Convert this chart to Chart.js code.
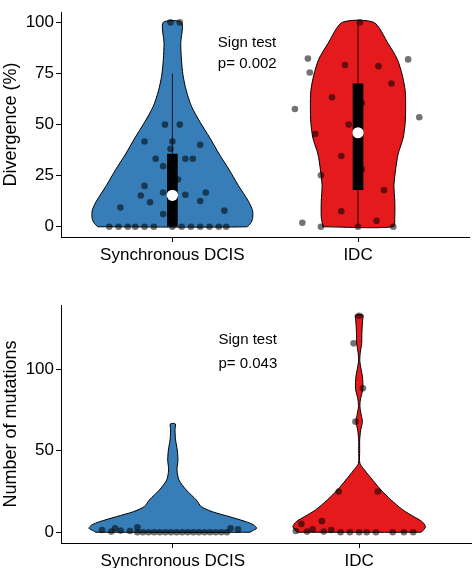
<!DOCTYPE html>
<html>
<head>
<meta charset="utf-8">
<script src="https://cdn.jsdelivr.net/npm/chart.js@4.4.1/dist/chart.umd.min.js"></script>
<style>
  body { margin: 0; background: #fff; }
  .panel { position: absolute; left: 0; }
</style>
</head>
<body>
<div class="panel" style="top:0"><canvas id="divChart" width="475" height="270"></canvas></div>
<div class="panel" style="top:280px"><canvas id="mutChart" width="475" height="288"></canvas></div>
<script>
// categories and ticks
const groups = ['Synchronous DCIS', 'IDC'];
const divTicks = [0, 25, 50, 75, 100];
const mutTicks = [0, 50, 100];
const pValues = ['0.002', '0.043'];

// violin outlines: value levels and relative half widths
const dcisDivY = [0, 1.7, 4, 7.9, 12.5, 20.2, 27.9, 35.6, 43.4, 51, 58.8, 66.5, 74.2, 82, 89.7, 100];
const dcisDivW = [0.89, 0.935, 0.96, 0.96, 0.91, 0.79, 0.68, 0.56, 0.45, 0.335, 0.23, 0.167, 0.127, 0.108, 0.10, 0.11];
const idcDivY = [0, 4.8, 12.5, 20.2, 27.9, 35.6, 43.4, 51, 58.8, 66.5, 74.2, 82, 89.7, 100];
const idcDivW = [0.42, 0.44, 0.44, 0.43, 0.45, 0.48, 0.54, 0.565, 0.57, 0.565, 0.53, 0.47, 0.36, 0.19];
const dcisMutY = [0, 0.8, 2.4, 4.5, 6.5, 9.6, 12.6, 15.7, 19.8, 25.9, 32, 38.2, 44.3, 50.4, 56.6, 62.7, 66.4];
const dcisMutW = [0.92, 0.945, 1.0, 0.965, 0.87, 0.67, 0.47, 0.34, 0.28, 0.16, 0.073, 0.05, 0.061, 0.053, 0.033, 0.026, 0.03];
const idcMutY = [0, 0.4, 3.4, 6.5, 9.6, 13.7, 19.8, 25.9, 32, 38.2, 42.3, 50, 56.6, 62.7, 67.8, 72, 77, 81.1, 88.2, 95.3, 104.5, 109.7, 115.8, 121.9, 130.1, 133.2];
const idcMutW = [0.73, 0.75, 0.79, 0.75, 0.65, 0.52, 0.38, 0.26, 0.16, 0.063, 0.008, 0.006, 0.006, 0.018, 0.039, 0.024, 0.009, 0.014, 0.044, 0.039, 0.008, 0.012, 0.03, 0.032, 0.041, 0.045];

// boxplot stats (divergence only)
const boxQ1 = [0, 18.2];
const boxQ3 = [35.6, 69.9];
const boxMedian = [15.4, 46];
const whiskerLow = [0, 0];
const whiskerHigh = [75, 100];

// jittered samples: divergence
const dcisDivX = [0.66, 0.71, 0.76, 0.80, 0.85, 0.90, 1.00, 1.05, 1.10, 1.15, 1.20, 1.25, 1.29,
  0.72, 0.95, 1.01, 1.28, 0.83, 0.88, 0.85, 0.95, 1.07, 1.15, 1.18, 1.03, 0.95, 0.91, 1.07, 1.11, 0.99, 1.00, 0.85, 1.15, 0.96, 1.04, 0.99, 1.04];
const dcisDivV = [0, 0, 0, 0, 0, 0, 0, 0, 0, 0, 0, 0, 0,
  9.4, 6.2, 9.6, 7.9, 15.3, 12, 20, 16.8, 15.7, 12.6, 16.8, 23.1, 29.6, 33.3, 33.3, 33.3, 38.1, 41.7, 41.7, 40.1, 50, 50, 100, 100];
const idcDivX = [2.01, 1.73, 1.74, 1.93, 2.11, 2.27, 2.18, 1.86, 2.02, 1.66, 2.33, 1.95, 1.77, 1.91, 2.02, 1.80, 2.14, 1.91, 2.10, 1.70, 1.80, 2.00, 2.19];
const idcDivV = [100, 82.3, 75.5, 79.2, 78.6, 81.9, 70.1, 63.4, 60.5, 57.6, 53.6, 50, 45.4, 34.6, 28.2, 25.2, 17.9, 7.6, 2.9, 2, 0, 0, 0];

// jittered samples: mutations
const dcisMutX = [0.62, 0.67, 0.69, 0.72, 0.77, 0.81,
  0.81, 0.84, 0.87, 0.90, 0.93, 0.96, 0.99, 1.02, 1.05, 1.08, 1.11, 1.14, 1.17, 1.20, 1.23, 1.26, 1.29, 1.31, 1.35];
const dcisMutV = [1.4, 0.4, 2.4, 1, 0.8, 3,
  0, 0, 0, 0, 0, 0, 0, 0, 0, 0, 0, 0, 0, 0, 0, 0, 0, 2.4, 1.8];
const idcMutX = [2.00, 1.97, 2.02, 1.98, 1.89, 2.10, 1.69, 1.80, 1.75, 1.72, 1.66, 1.81, 1.85,
  1.90, 1.95, 2.00, 2.04, 2.09, 2.18, 2.24, 2.29];
const idcMutV = [132.7, 115.8, 88.2, 67.8, 24.9, 24.9, 5.1, 6.8, 1.8, 0.4, 0.8, 0.4, 1.4,
  0, 0, 0, 0, 0, 0, 0, 0];

const colors = ['#377EB8', '#E41A1C'];
const FONT = "'Liberation Sans', Arial, Helvetica, sans-serif";
Chart.defaults.font.family = FONT;
Chart.defaults.color = '#000';

// closed outline of a violin around category centre
function violin(center, ys, ws) {
  const pts = [];
  for (let i = 0; i < ys.length; i++) pts.push({ x: center - 0.45 * ws[i], y: ys[i] });
  for (let i = ys.length - 1; i >= 0; i--) pts.push({ x: center + 0.45 * ws[i], y: ys[i] });
  pts.push(pts[0]);
  return pts;
}

function zip(xs, ys) {
  return xs.map((x, i) => ({ x: x, y: ys[i] }));
}

// "Sign test / p= ..." label
const annotate = {
  id: 'annotate',
  afterDraw(chart, args, opts) {
    const { ctx, scales } = chart;
    ctx.save();
    ctx.font = '15px ' + FONT;
    ctx.fillStyle = '#000';
    ctx.textAlign = 'left';
    ctx.textBaseline = 'middle';
    const x = scales.x.getPixelForValue(opts.x);
    ctx.fillText('Sign test', x, scales.y.getPixelForValue(opts.y1));
    ctx.fillText('p= ' + opts.p, x, scales.y.getPixelForValue(opts.y2));
    ctx.restore();
  }
};

function makeChart(id, cfg) {
  const datasets = [
    { type: 'line', data: violin(1, cfg.dcisY, cfg.dcisW), borderColor: '#000', borderWidth: 1,
      backgroundColor: colors[0], fill: 'shape', pointRadius: 0, tension: 0.25, order: 6 },
    { type: 'line', data: violin(2, cfg.idcY, cfg.idcW), borderColor: '#000', borderWidth: 1,
      backgroundColor: colors[1], fill: 'shape', pointRadius: 0, tension: 0.25, order: 6 },
    { type: 'line', data: zip(cfg.dcisX, cfg.dcisV), showLine: false, pointRadius: 3.3,
      pointBackgroundColor: 'rgba(0,0,0,0.55)', pointBorderWidth: 0, order: 2 },
    { type: 'line', data: zip(cfg.idcX, cfg.idcV), showLine: false, pointRadius: 3.3,
      pointBackgroundColor: 'rgba(0,0,0,0.55)', pointBorderWidth: 0, order: 2 }
  ];
  if (cfg.box) {
    datasets.push(
      { type: 'line', data: [{ x: 1, y: whiskerLow[0] }, { x: 1, y: whiskerHigh[0] }, { x: 1.5, y: null },
          { x: 2, y: whiskerLow[1] }, { x: 2, y: whiskerHigh[1] }],
        borderColor: 'rgba(0,0,0,0.8)', borderWidth: 1, pointRadius: 0, spanGaps: false, order: 5 },
      { type: 'bar', data: [{ x: 1, y: [boxQ1[0], boxQ3[0]] }, { x: 2, y: [boxQ1[1], boxQ3[1]] }],
        backgroundColor: '#000', barThickness: 10, grouped: false, order: 4 },
      { type: 'line', data: [{ x: 1, y: boxMedian[0] }, { x: 2, y: boxMedian[1] }], showLine: false,
        pointRadius: 5.6, pointBackgroundColor: '#fff', pointBorderWidth: 0, order: 1 }
    );
  }
  return new Chart(document.getElementById(id), {
    type: 'line',
    data: { datasets },
    options: {
      responsive: false,
      animation: false,
      layout: { padding: { top: cfg.padTop, left: 0, right: 0, bottom: 0 } },
      plugins: { legend: { display: false }, tooltip: { enabled: false }, annotate: cfg.note },
      scales: {
        x: {
          type: 'linear', min: 0.4, max: 2.6, offset: false,
          grid: { offset: false, drawOnChartArea: false, drawTicks: true, tickLength: 5, color: '#000' },
          border: { display: true, color: '#000', width: 1 },
          ticks: { autoSkip: false, maxRotation: 0, padding: 3, font: { size: 17 },
            callback: v => groups[v - 1] || '' },
          afterBuildTicks: s => { s.ticks = [1, 2].map(v => ({ value: v })); },
          afterFit: s => { s.height = cfg.xHeight; }
        },
        y: {
          type: 'linear', min: cfg.yMin, max: cfg.yMax,
          grid: { drawOnChartArea: false, drawTicks: true, tickLength: 5, color: '#000' },
          border: { display: true, color: '#000', width: 1 },
          ticks: { padding: 2, font: { size: 17 } },
          afterBuildTicks: s => { s.ticks = cfg.ticks.map(v => ({ value: v })); },
          title: { display: true, text: cfg.title, font: { size: 18 }, padding: { top: 0, bottom: 0 } },
          afterFit: s => { s.width = 61; }
        }
      }
    },
    plugins: [annotate]
  });
}

makeChart('divChart', {
  dcisY: dcisDivY, dcisW: dcisDivW, idcY: idcDivY, idcW: idcDivW,
  dcisX: dcisDivX, dcisV: dcisDivV, idcX: idcDivX, idcV: idcDivV,
  box: true, yMin: -5, yMax: 105, ticks: divTicks, title: 'Divergence (%)',
  padTop: 0, xHeight: 33,
  note: { x: 1.245, y1: 89.8, y2: 79.6, p: pValues[0] }
});

makeChart('mutChart', {
  dcisY: dcisMutY, dcisW: dcisMutW, idcY: idcMutY, idcW: idcMutW,
  dcisX: dcisMutX, dcisV: dcisMutV, idcX: idcMutX, idcV: idcMutV,
  box: false, yMin: -6.6, yMax: 139.3, ticks: mutTicks, title: 'Number of mutations',
  padTop: 25, xHeight: 25,
  note: { x: 1.245, y1: 117.8, y2: 103.1, p: pValues[1] }
});
</script>
</body>
</html>
